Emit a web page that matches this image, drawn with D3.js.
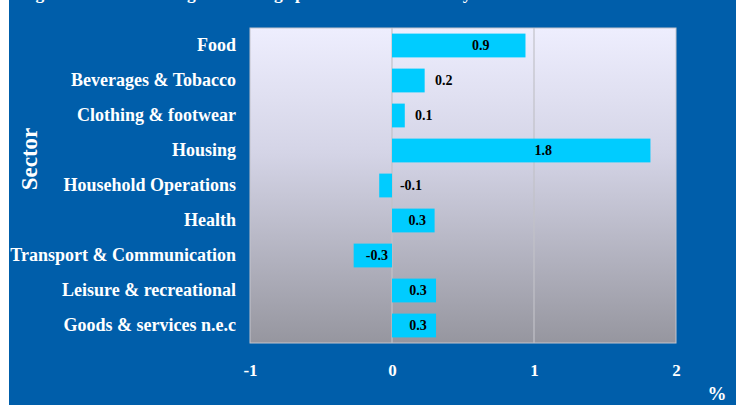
<!DOCTYPE html>
<html>
<head>
<meta charset="utf-8">
<script src="https://cdn.jsdelivr.net/npm/d3@7/dist/d3.min.js"></script>
<style>
  html, body { margin: 0; padding: 0; background: #fff; }
  svg { display: block; }
  text { font-family: "Liberation Serif", "Times New Roman", serif; font-weight: bold; }
</style>
</head>
<body>
<script>

    // data
    const categories = ['Food', 'Beverages & Tobacco', 'Clothing & footwear', 'Housing',
        'Household Operations', 'Health', 'Transport & Communication',
        'Leisure & recreational', 'Goods & services n.e.c'];
    const values = [0.94, 0.23, 0.09, 1.82, -0.09, 0.30, -0.27, 0.31, 0.31];
    const xTicks = [-1, 0, 1, 2];
    const titleText = 'Figure 1: Sectoral Weighted Change percent contribution by sector';

    const width = 746, height = 406;
    const plot = {left: 250, right: 676, top: 28, bottom: 343};

    // plain hyphen for negatives, like the original
    const fmtVal = d => d3.format('.1f')(d).replace('\u2212', '-');
    const fmtTick = d => d3.format('d')(d).replace('\u2212', '-');

    const svg = d3.select('body').append('svg')
        .attr('width', width)
        .attr('height', height);

    const defs = svg.append('defs');
    const grad = defs.append('linearGradient')
        .attr('id', 'plotbg')
        .attr('x1', 0).attr('y1', 0).attr('x2', 0).attr('y2', 1);
    grad.append('stop').attr('offset', '0%').attr('stop-color', '#eeeefe');
    grad.append('stop').attr('offset', '40%').attr('stop-color', '#d4d4e6');
    grad.append('stop').attr('offset', '100%').attr('stop-color', '#96969f');

    // blue frame
    svg.append('rect')
        .attr('x', 9).attr('y', 0)
        .attr('width', 727).attr('height', 405)
        .attr('fill', '#005eaa');

    // title, mostly cut off above the frame
    svg.append('text')
        .attr('x', 20).attr('y', -1)
        .attr('fill', '#fff')
        .style('font-size', '17.5px')
        .text(titleText);

    const x = d3.scaleLinear().domain([-1, 2]).range([plot.left, plot.right]);
    const y = d3.scaleBand().domain(categories)
        .range([plot.top, plot.bottom])
        .paddingInner(0.32).paddingOuter(0.16);

    svg.append('rect')
        .attr('x', plot.left).attr('y', plot.top)
        .attr('width', plot.right - plot.left).attr('height', plot.bottom - plot.top)
        .attr('fill', 'url(#plotbg)')
        .attr('stroke', '#c4c4cc').attr('stroke-width', 1);

    // vertical gridlines
    svg.selectAll('line.grid').data(xTicks.slice(1, -1))
        .enter().append('line')
        .classed('grid', true)
        .attr('x1', d => x(d)).attr('x2', d => x(d))
        .attr('y1', plot.top).attr('y2', plot.bottom)
        .attr('stroke', '#c2c2c8').attr('stroke-width', 1.2);

    // bars
    svg.selectAll('rect.bar').data(values)
        .enter().append('rect')
        .classed('bar', true)
        .attr('x', d => x(Math.min(0, d)))
        .attr('y', (d, i) => y(categories[i]))
        .attr('width', d => Math.abs(x(d) - x(0)))
        .attr('height', y.bandwidth())
        .attr('fill', '#00ccff');

    // value labels: inside wide bars, to the right of narrow ones
    function labelX(d) {
        const w = Math.abs(x(d) - x(0));
        if (w > 35) return (x(d) + x(0)) / 2 + (d > 0.5 ? 22 : 4);
        return Math.max(x(d), x(0)) + 19;
    }

    svg.selectAll('text.val').data(values)
        .enter().append('text')
        .classed('val', true)
        .attr('x', d => labelX(d))
        .attr('y', (d, i) => y(categories[i]) + y.bandwidth() / 2)
        .attr('dy', '0.35em')
        .attr('text-anchor', 'middle')
        .attr('fill', '#000')
        .style('font-size', '14px')
        .text(fmtVal);

    // category axis
    const yAxis = svg.append('g')
        .attr('transform', `translate(${plot.left},0)`)
        .call(d3.axisLeft(y).tickSize(0).tickPadding(14));
    yAxis.select('.domain').remove();
    yAxis.selectAll('text')
        .attr('fill', '#fff')
        .style('font-family', '"Liberation Serif", serif')
        .style('font-weight', 'bold')
        .style('font-size', '18px');

    // value axis
    const xAxis = svg.append('g')
        .attr('transform', `translate(0,${plot.bottom})`)
        .call(d3.axisBottom(x).tickValues(xTicks).tickSize(0).tickPadding(21).tickFormat(fmtTick));
    xAxis.select('.domain').remove();
    xAxis.selectAll('text')
        .attr('fill', '#fff')
        .style('font-family', '"Liberation Serif", serif')
        .style('font-weight', 'bold')
        .style('font-size', '17px');

    // axis titles
    svg.append('text')
        .attr('transform', 'translate(37,159) rotate(-90)')
        .attr('text-anchor', 'middle')
        .attr('fill', '#fff')
        .style('font-size', '23px')
        .text('Sector');

    svg.append('text')
        .attr('x', 717).attr('y', 400)
        .attr('text-anchor', 'middle')
        .attr('fill', '#fff')
        .style('font-size', '19px')
        .text('%');

</script>
</body>
</html>
